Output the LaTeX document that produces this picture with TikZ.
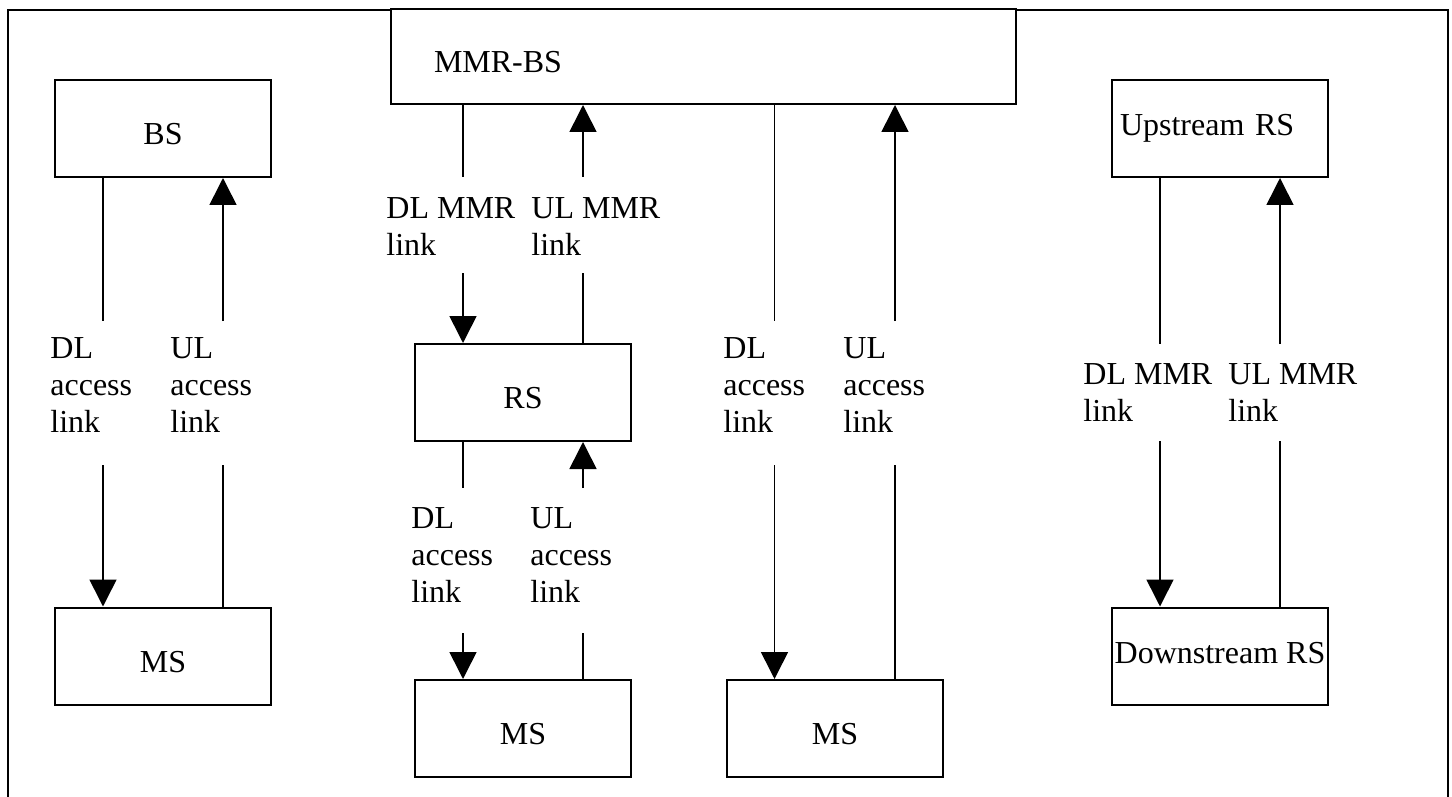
\documentclass[tikz,border=0pt]{standalone}
\usepackage{fontspec}
\setmainfont{Liberation Serif}
\usetikzlibrary{arrows.meta}

\begin{document}
\begin{tikzpicture}[x=0.5pt, y=-0.5pt,
		box/.style={draw, line width=1pt, minimum width=108pt, minimum height=48.5pt, inner sep=0pt, font=\fontsize{16pt}{18.5pt}\selectfont},
		boxlow/.style={box, text height=16pt, text depth=0pt},
		lbl/.style={anchor=north west, align=left, inner sep=0pt, font=\fontsize{16pt}{18.5pt}\selectfont},
		wire/.style={line width=0.8pt},
		wirehead/.style={line width=0.8pt, -{Triangle[length=13.5pt, width=13.5pt]}}]
		%%%%% START %%%%%
		
		\useasboundingbox (0, 0) rectangle (1452, 797);
		\draw[line width=1pt] (8, 797) -- (8, 10) -- (1448, 10) -- (1448, 797);
		
		\node[boxlow] (bs) at (163, 128.5) {BS};
		\node[boxlow] (ms1) at (163, 656) {MS};
		\node[boxlow, fill=white, minimum width=312.5pt, minimum height=47.5pt, align=left, text width=269.5pt, inner xsep=21.5pt] (mmrbs) at (703.5, 56.5) {MMR-BS};
		\node[boxlow] (rs) at (523, 392.5) {RS};
		\node[boxlow] (ms2) at (523, 728.5) {MS};
		\node[boxlow] (ms3) at (835, 728.5) {MS};
		\node[box, align=left, text width=100pt, inner xsep=4pt] (uprs) at (1220, 128.5) {Upstream RS};
		\node[box, text depth=3pt] (downrs) at (1220, 656) {Downstream RS};
		
		\node[lbl] (dlbs) at (50, 337) {DL\\access\\link};
		\node[lbl] (ulbs) at (170, 337) {UL\\access\\link};
		\node[lbl] (dlmmr) at (386, 197) {DL MMR\\link};
		\node[lbl] (ulmmr) at (531, 197) {UL MMR\\link};
		\node[lbl] (dlrs) at (411, 507) {DL\\access\\link};
		\node[lbl] (ulrs) at (530, 507) {UL\\access\\link};
		\node[lbl] (dlms) at (723, 337) {DL\\access\\link};
		\node[lbl] (ulms) at (843, 337) {UL\\access\\link};
		\node[lbl] (dlup) at (1083, 363) {DL MMR\\link};
		\node[lbl] (ulup) at (1228, 363) {UL MMR\\link};
		
		% BS <-> MS
		\coordinate (dlbsT) at (103, 321); \coordinate (dlbsB) at (103, 465);
		\coordinate (ulbsT) at (223, 321); \coordinate (ulbsB) at (223, 465);
		\draw[wire] (bs.south -| dlbsT) -- (dlbsT);
		\draw[wirehead] (dlbsB) -- (ms1.north -| dlbsB);
		\draw[wire] (ms1.north -| ulbsB) -- (ulbsB);
		\draw[wirehead] (ulbsT) -- (bs.south -| ulbsT);
		
		% MMR-BS <-> RS
		\coordinate (dlmmrT) at (463, 177); \coordinate (dlmmrB) at (463, 273);
		\coordinate (ulmmrT) at (583, 177); \coordinate (ulmmrB) at (583, 273);
		\draw[wire] (mmrbs.south -| dlmmrT) -- (dlmmrT);
		\draw[wirehead] (dlmmrB) -- (rs.north -| dlmmrB);
		\draw[wire] (rs.north -| ulmmrB) -- (ulmmrB);
		\draw[wirehead] (ulmmrT) -- (mmrbs.south -| ulmmrT);
		
		% RS <-> MS
		\coordinate (dlrsT) at (463, 488); \coordinate (dlrsB) at (463, 633);
		\coordinate (ulrsT) at (583, 488); \coordinate (ulrsB) at (583, 633);
		\draw[wire] (rs.south -| dlrsT) -- (dlrsT);
		\draw[wirehead] (dlrsB) -- (ms2.north -| dlrsB);
		\draw[wire] (ms2.north -| ulrsB) -- (ulrsB);
		\draw[wirehead] (ulrsT) -- (rs.south -| ulrsT);
		
		% MMR-BS <-> MS
		\coordinate (dlmsT) at (774.5, 321); \coordinate (dlmsB) at (774.5, 465);
		\coordinate (ulmsT) at (895, 321); \coordinate (ulmsB) at (895, 465);
		\draw[wire] (mmrbs.south -| dlmsT) -- (dlmsT);
		\draw[wirehead] (dlmsB) -- (ms3.north -| dlmsB);
		\draw[wire] (ms3.north -| ulmsB) -- (ulmsB);
		\draw[wirehead] (ulmsT) -- (mmrbs.south -| ulmsT);
		
		% Upstream RS <-> Downstream RS
		\coordinate (dlupT) at (1160, 344); \coordinate (dlupB) at (1160, 441);
		\coordinate (ulupT) at (1280, 344); \coordinate (ulupB) at (1280, 441);
		\draw[wire] (uprs.south -| dlupT) -- (dlupT);
		\draw[wirehead] (dlupB) -- (downrs.north -| dlupB);
		\draw[wire] (downrs.north -| ulupB) -- (ulupB);
		\draw[wirehead] (ulupT) -- (uprs.south -| ulupT);
		
		%%%%% END %%%%%
	\end{tikzpicture}
\end{document}
